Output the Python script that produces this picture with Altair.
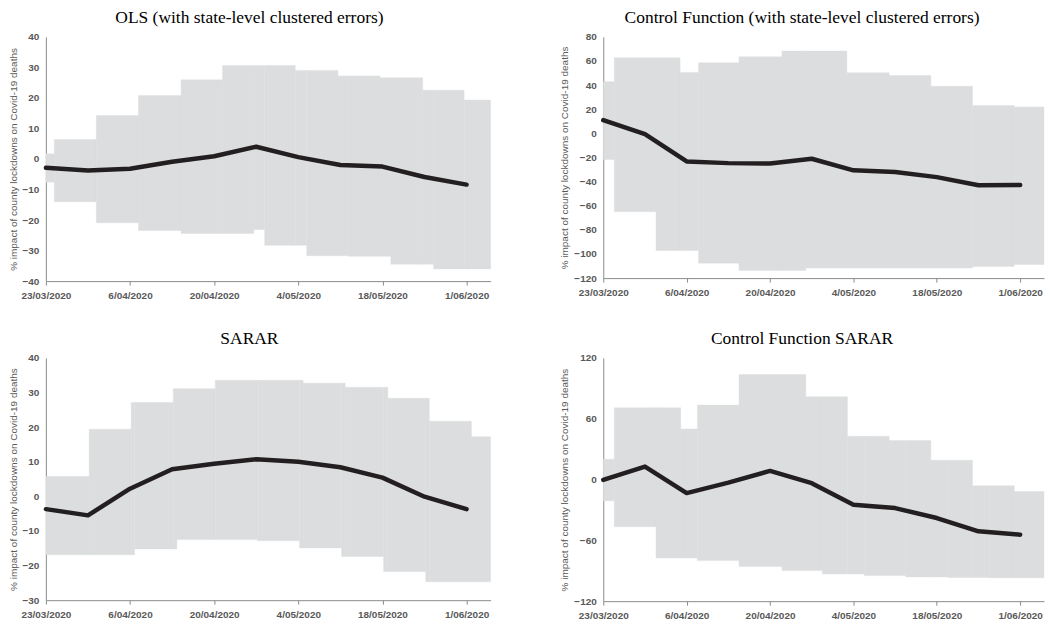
import altair as alt
import pandas as pd

# ---------------- data ----------------
week_dates = ["23/03/2020", "30/03/2020", "6/04/2020", "13/04/2020", "20/04/2020",
              "27/04/2020", "4/05/2020", "11/05/2020", "18/05/2020", "25/05/2020", "1/06/2020"]
tick_labels = ["23/03/2020", "6/04/2020", "20/04/2020", "4/05/2020", "18/05/2020", "1/06/2020"]

y_title = "% impact of county lockdowns on Covid-19  deaths"

# OLS
ols_title = "OLS (with state-level clustered errors)"
ols_line = [-2.9, -3.8, -3.2, -0.9, 0.9, 4.0, 0.6, -2.0, -2.5, -5.9, -8.4]
ols_up_edges = [0, 1.4, 8.4, 15.4, 22.5, 29.4, 41.5, 48.6, 55.6, 62.7, 69.6, 74]
ols_up_vals = [1.7, 6.4, 14.2, 20.8, 25.9, 30.6, 29.0, 27.2, 26.6, 22.5, 19.3]
ols_lo_edges = [0, 1.4, 8.4, 15.4, 22.5, 34.6, 36.4, 43.4, 50.4, 57.4, 64.5, 74]
ols_lo_vals = [-7.6, -14.0, -20.9, -23.4, -24.4, -23.1, -28.3, -31.7, -31.9, -34.5, -36.0]
ols_yticks = [-40, -30, -20, -10, 0, 10, 20, 30, 40]

# Control Function
cf_title = "Control Function (with state-level clustered errors)"
cf_line = [10.9, -0.7, -23.3, -24.7, -25.0, -21.1, -30.7, -32.1, -36.3, -43.1, -42.9]
cf_up_edges = [0, 1.85, 12.9, 16.0, 22.8, 30.0, 40.9, 48.0, 55.0, 62.0, 69.0, 74]
cf_up_vals = [42.8, 62.6, 50.5, 58.5, 63.5, 68.2, 50.2, 48.0, 39.0, 23.0, 21.9]
cf_lo_edges = [0, 1.85, 8.85, 16.0, 22.8, 34.0, 62.0, 69.0, 74]
cf_lo_vals = [-21.7, -64.9, -97.1, -107.6, -113.7, -111.7, -110.4, -108.7]
cf_yticks = [-120, -100, -80, -60, -40, -20, 0, 20, 40, 60, 80]

# SARAR
sarar_title = "SARAR"
sarar_line = [-3.7, -5.5, 2.2, 7.8, 9.4, 10.7, 10.0, 8.4, 5.4, -0.1, -3.7]
sarar_up_edges = [0, 7.2, 14.2, 21.2, 28.2, 42.8, 49.8, 56.9, 63.8, 70.8, 74]
sarar_up_vals = [5.7, 19.4, 27.1, 31.1, 33.5, 32.7, 31.5, 28.3, 21.7, 17.2]
sarar_lo_edges = [0, 14.75, 21.8, 35.2, 42.2, 49.2, 56.2, 63.2, 74]
sarar_lo_vals = [-16.9, -15.2, -12.5, -12.8, -14.9, -17.4, -21.7, -24.7]
sarar_yticks = [-30, -20, -10, 0, 10, 20, 30, 40]

# Control Function SARAR
cfs_title = "Control Function SARAR"
cfs_line = [-0.3, 12.8, -13.4, -3.0, 8.5, -3.6, -24.9, -28.2, -38.0, -51.1, -54.4]
cfs_up_edges = [0, 1.85, 13.0, 15.8, 22.8, 34.0, 41.0, 48.0, 55.0, 62.0, 69.0, 74]
cfs_up_vals = [20.0, 70.8, 49.8, 73.4, 103.6, 81.6, 42.6, 38.4, 19.0, -6.2, -11.8]
cfs_lo_edges = [0, 1.85, 8.85, 15.8, 22.8, 30.0, 36.8, 43.8, 50.8, 57.8, 64.8, 74]
cfs_lo_vals = [-21.0, -46.6, -77.4, -80.0, -85.9, -89.8, -93.1, -94.8, -96.1, -96.7, -97.0]
cfs_yticks = [-120, -60, 0, 60, 120]

# ---------------- helpers ----------------
start = pd.to_datetime(week_dates[0], format="%d/%m/%Y")
week_days = [(pd.to_datetime(d, format="%d/%m/%Y") - start).days for d in week_dates]
tick_days = [(pd.to_datetime(d, format="%d/%m/%Y") - start).days for d in tick_labels]
label_expr = "[" + ",".join("'%s'" % t for t in tick_labels) + "][indexof(" + \
    "[" + ",".join(str(t) for t in tick_days) + "], datum.value)]"

X_MAX = 74
GREY_BAND = "#dcdddf"
LINE_COL = "#231f20"


def step_value(edges, vals, x):
    for i in range(len(vals)):
        if edges[i] <= x < edges[i + 1]:
            return vals[i]
    return vals[-1]


def band_table(up_e, up_v, lo_e, lo_v):
    edges = sorted(set(up_e + lo_e))
    rows = []
    for a, b in zip(edges[:-1], edges[1:]):
        m = (a + b) / 2
        rows.append({"x0": a, "x1": b,
                     "hi": step_value(up_e, up_v, m),
                     "lo": step_value(lo_e, lo_v, m)})
    return pd.DataFrame(rows)


def panel(title, line_vals, up_e, up_v, lo_e, lo_v, yticks, w, h):
    band_df = band_table(up_e, up_v, lo_e, lo_v)
    line_df = pd.DataFrame({"x0": week_days, "value": line_vals})
    xs = alt.Scale(domain=[0, X_MAX], nice=False, zero=False)
    ys = alt.Scale(domain=[min(yticks), max(yticks)], nice=False, zero=False)
    xa = alt.Axis(values=tick_days, labelExpr=label_expr, title=None, tickSize=4,
                  labelPadding=5, labelOverlap=False, labelFlush=False)
    ya = alt.Axis(values=yticks, ticks=False, labelPadding=7, title=y_title,
                  titlePadding=4, labelOverlap=False)
    band = alt.Chart(band_df).mark_rect(color=GREY_BAND, stroke=GREY_BAND,
                                        strokeWidth=0.4).encode(
        x=alt.X("x0:Q", scale=xs, axis=xa),
        x2="x1:Q",
        y=alt.Y("lo:Q", scale=ys, axis=ya),
        y2="hi:Q",
    )
    line = alt.Chart(line_df).mark_line(color=LINE_COL, strokeWidth=4.5,
                                        strokeCap="round", strokeJoin="round").encode(
        x=alt.X("x0:Q", scale=xs, axis=xa),
        y=alt.Y("value:Q", scale=ys, axis=ya),
    )
    return alt.layer(band, line).properties(width=w, height=h, title=alt.Title(title))


p1 = panel(ols_title, ols_line, ols_up_edges, ols_up_vals, ols_lo_edges, ols_lo_vals,
           ols_yticks, 446, 245)
p2 = panel(cf_title, cf_line, cf_up_edges, cf_up_vals, cf_lo_edges, cf_lo_vals,
           cf_yticks, 442, 242)
p3 = panel(sarar_title, sarar_line, sarar_up_edges, sarar_up_vals, sarar_lo_edges,
           sarar_lo_vals, sarar_yticks, 446, 243)
p4 = panel(cfs_title, cfs_line, cfs_up_edges, cfs_up_vals, cfs_lo_edges, cfs_lo_vals,
           cfs_yticks, 442, 244)

top = alt.hconcat(p1, p2, spacing=68)
bottom = alt.hconcat(p3, p4, spacing=68)

chart = alt.vconcat(top, bottom, spacing=30).properties(padding=0).configure_view(
    stroke=None
).configure_axis(
    grid=False,
    domainColor="#8c8c8c",
    domainWidth=1,
    tickColor="#8c8c8c",
    labelColor="#595959",
    labelFont="Liberation Sans",
    labelFontSize=10,
    labelFontWeight="bold",
    titleColor="#595959",
    titleFont="Liberation Sans",
    titleFontSize=10,
    titleFontWeight="normal",
).configure_title(
    font="Liberation Serif",
    fontSize=17.5,
    fontWeight="normal",
    color="#000000",
    anchor="middle",
    frame="bounds",
    offset=5,
)

chart.save("out.html", embed_options={"renderer": "svg", "actions": False})
